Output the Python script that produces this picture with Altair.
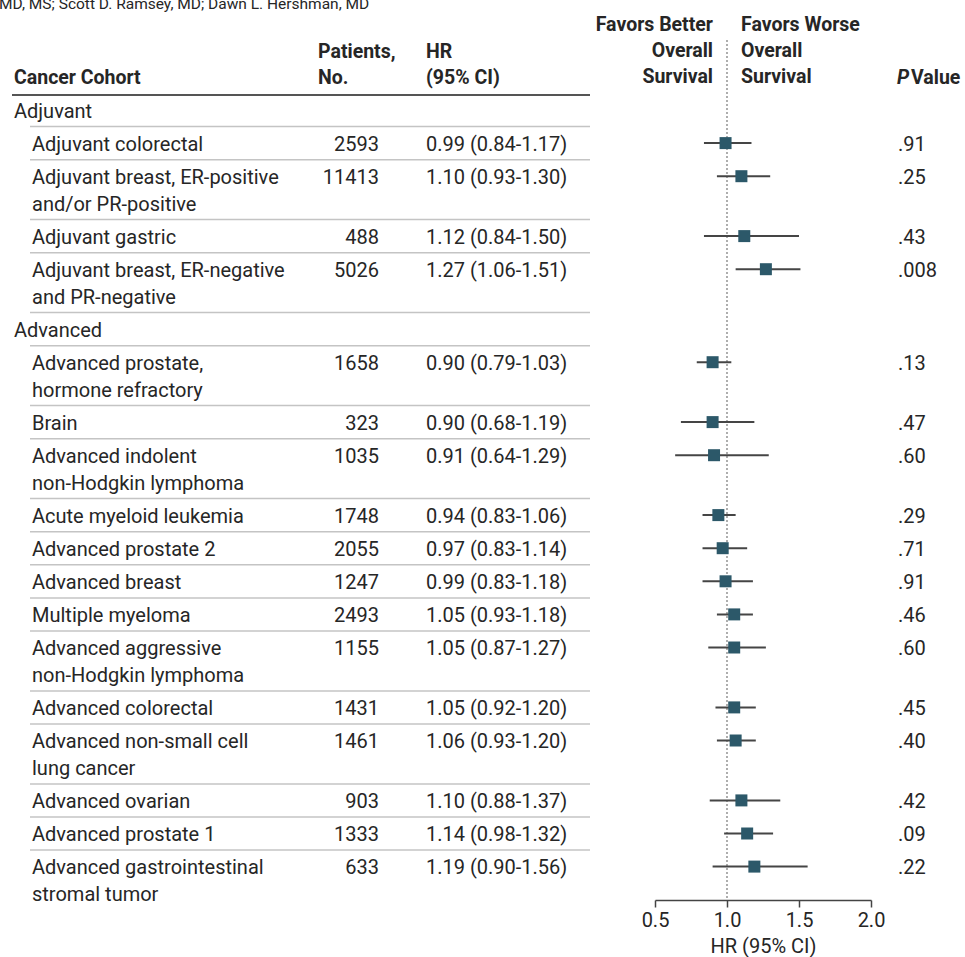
import altair as alt
import pandas as pd

# ---- data -------------------------------------------------------------
groups = ["Adjuvant", "Advanced"]
group_sizes = [4, 13]

cohorts = [
    ["Adjuvant colorectal"],
    ["Adjuvant breast, ER-positive", "\u00a0and/or PR-positive"],
    ["Adjuvant gastric"],
    ["Adjuvant breast, ER-negative", "and PR-negative"],
    ["Advanced prostate,", "hormone refractory"],
    ["Brain"],
    ["Advanced indolent", "non-Hodgkin lymphoma"],
    ["Acute myeloid leukemia"],
    ["Advanced prostate 2"],
    ["Advanced breast"],
    ["Multiple myeloma"],
    ["Advanced aggressive", "non-Hodgkin lymphoma"],
    ["Advanced colorectal"],
    ["Advanced non-small cell", "lung cancer"],
    ["Advanced ovarian"],
    ["Advanced prostate 1"],
    ["Advanced gastrointestinal", "stromal tumor"],
]
patients = [2593, 11413, 488, 5026, 1658, 323, 1035, 1748, 2055, 1247,
            2493, 1155, 1431, 1461, 903, 1333, 633]
hr = [0.99, 1.10, 1.12, 1.27, 0.90, 0.90, 0.91, 0.94, 0.97, 0.99,
      1.05, 1.05, 1.05, 1.06, 1.10, 1.14, 1.19]
ci_low = [0.84, 0.93, 0.84, 1.06, 0.79, 0.68, 0.64, 0.83, 0.83, 0.83,
          0.93, 0.87, 0.92, 0.93, 0.88, 0.98, 0.90]
ci_high = [1.17, 1.30, 1.50, 1.51, 1.03, 1.19, 1.29, 1.06, 1.14, 1.18,
           1.18, 1.27, 1.20, 1.20, 1.37, 1.32, 1.56]
p_values = [".91", ".25", ".43", ".008", ".13", ".47", ".60", ".29", ".71",
            ".91", ".46", ".60", ".45", ".40", ".42", ".09", ".22"]

hr_ticks = [0.5, 1.0, 1.5, 2.0]
authors = "MD, MS; Scott D. Ramsey, MD; Dawn L. Hershman, MD"

# ---- layout -----------------------------------------------------------
FONT = "Roboto"
FS = 20
HFS = 19.5
TXT = "#262626"
SQUARE = "#2c5869"
TOP_ROW = 110.0
ROW_STEP = 33.1
WRAP_STEP = 26.8
PLOT_H = 900

label_lines, group_lines, seps, cohort_rows = [], [], [], []
y = TOP_ROW
idx = 0
first = True
for g, n in zip(groups, group_sizes):
    if not first:
        seps.append({"y": y - 16.5})
    first = False
    group_lines.append({"text": g, "y": y})
    y += ROW_STEP
    for _ in range(n):
        seps.append({"y": y - 16.5})
        lines = cohorts[idx]
        for k, line in enumerate(lines):
            label_lines.append({"text": line, "y": y + k * WRAP_STEP})
        cohort_rows.append({
            "y": y,
            "patients": str(patients[idx]),
            "hrtext": f"{hr[idx]:.2f} ({ci_low[idx]:.2f}-{ci_high[idx]:.2f})",
            "hr": hr[idx], "lo": ci_low[idx], "hi": ci_high[idx],
            "p": p_values[idx],
        })
        y += ROW_STEP + WRAP_STEP * (len(lines) - 1)
        idx += 1

labels_df = pd.DataFrame(label_lines)
groups_df = pd.DataFrame(group_lines)
seps_df = pd.DataFrame(seps)
rows_df = pd.DataFrame(cohort_rows)

Y = alt.Y("y:Q", scale=None, axis=None)
xscale = alt.Scale(domain=[0.5, 2.0], range=[655, 871], nice=False, zero=False)


def text_layer(df, x, align="left", bold=False, field="text", italic=False, size=FS, dy=1.5):
    return alt.Chart(df).mark_text(
        align=align, baseline="middle", font=FONT, fontSize=size, dy=dy,
        fontWeight="bold" if bold else "normal",
        fontStyle="italic" if italic else "normal", color=TXT,
    ).encode(x=alt.value(x), y=Y, text=f"{field}:N")


layers = []
# author line running across the top edge
layers.append(text_layer(pd.DataFrame([{"text": authors, "y": 4}]), -1, size=15.5, dy=0))

# column headers
layers.append(text_layer(pd.DataFrame([{"text": "Cancer Cohort", "y": 76}]), 14, bold=True, size=HFS))
layers.append(text_layer(pd.DataFrame([{"text": "Patients,", "y": 50}, {"text": "No.", "y": 76}]),
                         318, bold=True, size=HFS))
layers.append(text_layer(pd.DataFrame([{"text": "HR", "y": 50}, {"text": "(95% CI)", "y": 76}]),
                         426, bold=True, size=HFS))
layers.append(text_layer(pd.DataFrame([{"text": "Favors Better", "y": 23}, {"text": "Overall", "y": 49},
                                       {"text": "Survival", "y": 75}]), 713, align="right", bold=True, size=HFS))
layers.append(text_layer(pd.DataFrame([{"text": "Favors Worse", "y": 23}, {"text": "Overall", "y": 49},
                                       {"text": "Survival", "y": 75}]), 741, bold=True, size=HFS))
layers.append(text_layer(pd.DataFrame([{"text": "P", "y": 76}]), 897, bold=True, italic=True, size=HFS))
layers.append(text_layer(pd.DataFrame([{"text": "Value", "y": 76}]), 911, bold=True, size=HFS))

# table rules
layers.append(alt.Chart(pd.DataFrame([{"y": 95}])).mark_rule(color="#555555", strokeWidth=2).encode(
    x=alt.value(12), x2=alt.value(590), y=Y))
layers.append(alt.Chart(seps_df).mark_rule(color="#c4c4c4", strokeWidth=1.5).encode(
    x=alt.value(30), x2=alt.value(590), y=Y))

# table body
layers.append(text_layer(groups_df, 14))
layers.append(text_layer(labels_df, 32))
layers.append(text_layer(rows_df, 379, align="right", field="patients"))
layers.append(text_layer(rows_df, 426, field="hrtext"))
layers.append(text_layer(rows_df, 898, field="p"))

# forest plot
X = alt.X("hr:Q", scale=xscale,
          axis=alt.Axis(values=hr_ticks, format=".1f", title="HR (95% CI)", grid=False,
                        labelFlush=False))
layers.append(alt.Chart(pd.DataFrame([{"hr": 1.0}])).mark_rule(
    color="#9a9a9a", strokeWidth=1.6, strokeDash=[2, 2]).encode(
    x=X, y=alt.value(40), y2=alt.value(PLOT_H)))
layers.append(alt.Chart(rows_df).mark_rule(color="#454545", strokeWidth=2).encode(
    x=alt.X("lo:Q", scale=xscale), x2="hi:Q", y=Y))
layers.append(alt.Chart(rows_df).mark_square(size=144, color=SQUARE, opacity=1, filled=True).encode(
    x=X, y=Y))

chart = alt.layer(*layers).properties(
    width=965, height=PLOT_H, autosize="none",
    padding={"left": 0, "right": 0, "top": 0, "bottom": 57},
).configure_view(stroke=None).configure_axis(
    domainColor="#444444", domainWidth=1.5, tickColor="#444444", tickWidth=1.5,
    tickSize=7, labelFont=FONT, labelFontSize=FS, labelColor=TXT, labelPadding=3,
    titleFont=FONT, titleFontSize=FS, titleFontWeight="normal", titleColor=TXT,
    titlePadding=6,
)

chart.save("out.html", embed_options={"renderer": "svg", "actions": False})
